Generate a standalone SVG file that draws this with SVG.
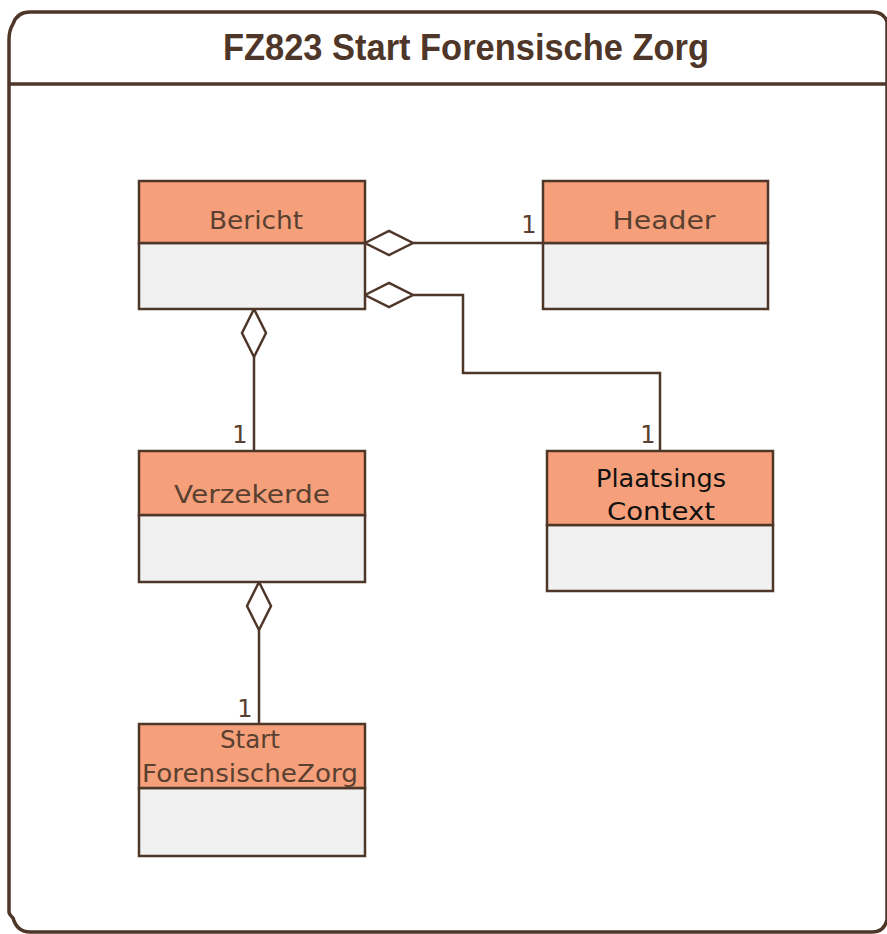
<svg xmlns="http://www.w3.org/2000/svg" width="887" height="934" viewBox="0 0 887 934">
<style>
.frame{fill:#fff;stroke:#4e3628;stroke-width:3.5}
.hd{fill:#f5a07a;stroke:#4e3628;stroke-width:2.5}
.bd{fill:#f1f1f1;stroke:#4e3628;stroke-width:2.5}
.ln{fill:none;stroke:#4e3628;stroke-width:2.5}
.dm{fill:#fff;stroke:#4e3628;stroke-width:2.5}
.t{font-family:"DejaVu Sans","Liberation Sans",sans-serif;font-size:25px;fill:#5a4031;text-anchor:middle}
.tb{font-family:"DejaVu Sans","Liberation Sans",sans-serif;font-size:25px;fill:#111;text-anchor:middle}
.m{font-family:"DejaVu Sans","Liberation Sans",sans-serif;font-size:24px;fill:#5a4031;text-anchor:middle}
.title{font-family:"Liberation Sans",sans-serif;font-weight:bold;font-size:36px;fill:#4e3628;text-anchor:middle}
</style>
<g id="frame">
<path class="frame" d="M9,912 L9,40 Q9,30 13,24 Q17,12 30,12 L872,12 Q884,12 887,22 L887,920 Q884,932 872,932 L30,932 Q17,932 13,918 Q9,914 9,912 Z"/>
<line class="ln" x1="9" y1="84" x2="887" y2="84" style="stroke-width:3.5"/>
<text class="title" x="466" y="60" textLength="486" lengthAdjust="spacingAndGlyphs">FZ823 Start Forensische Zorg</text>
</g>
<g id="connectors">
<line class="ln" x1="413" y1="243" x2="543" y2="243"/>
<polygon class="dm" points="365,243 389,231 413,243 389,255"/>
<text class="m" x="529" y="233">1</text>
<polyline class="ln" points="413,295 463,295 463,373 660,373 660,451"/>
<polygon class="dm" points="365,295 389,283 413,295 389,307"/>
<text class="m" x="648" y="443">1</text>
<line class="ln" x1="254" y1="357" x2="254" y2="451"/>
<polygon class="dm" points="254,309 266,333 254,357 242,333"/>
<text class="m" x="240" y="443">1</text>
<line class="ln" x1="259" y1="630" x2="259" y2="724"/>
<polygon class="dm" points="259,582 271,606 259,630 247,606"/>
<text class="m" x="245" y="717">1</text>
</g>
<g id="Bericht">
<rect class="bd" x="139" y="243" width="226" height="66"/>
<rect class="hd" x="139" y="181" width="226" height="62"/>
<text class="t" x="256" y="229" textLength="94" lengthAdjust="spacingAndGlyphs">Bericht</text>
</g>
<g id="Header">
<rect class="bd" x="543" y="243" width="225" height="66"/>
<rect class="hd" x="543" y="181" width="225" height="62"/>
<text class="t" x="664" y="229" textLength="103" lengthAdjust="spacingAndGlyphs">Header</text>
</g>
<g id="Verzekerde">
<rect class="bd" x="139" y="515" width="226" height="67"/>
<rect class="hd" x="139" y="451" width="226" height="64"/>
<text class="t" x="252" y="503" textLength="156" lengthAdjust="spacingAndGlyphs">Verzekerde</text>
</g>
<g id="PlaatsingsContext">
<rect class="bd" x="547" y="525" width="226" height="66"/>
<rect class="hd" x="547" y="451" width="226" height="74"/>
<text class="tb" x="661" y="487" textLength="130" lengthAdjust="spacingAndGlyphs">Plaatsings</text>
<text class="tb" x="661" y="520" textLength="108" lengthAdjust="spacingAndGlyphs">Context</text>
</g>
<g id="StartForensischeZorg">
<rect class="bd" x="139" y="788" width="226" height="68"/>
<rect class="hd" x="139" y="724" width="226" height="64"/>
<text class="t" x="250" y="748" textLength="60" lengthAdjust="spacingAndGlyphs">Start</text>
<text class="t" x="250" y="782" textLength="216" lengthAdjust="spacingAndGlyphs">ForensischeZorg</text>
</g>
</svg>
